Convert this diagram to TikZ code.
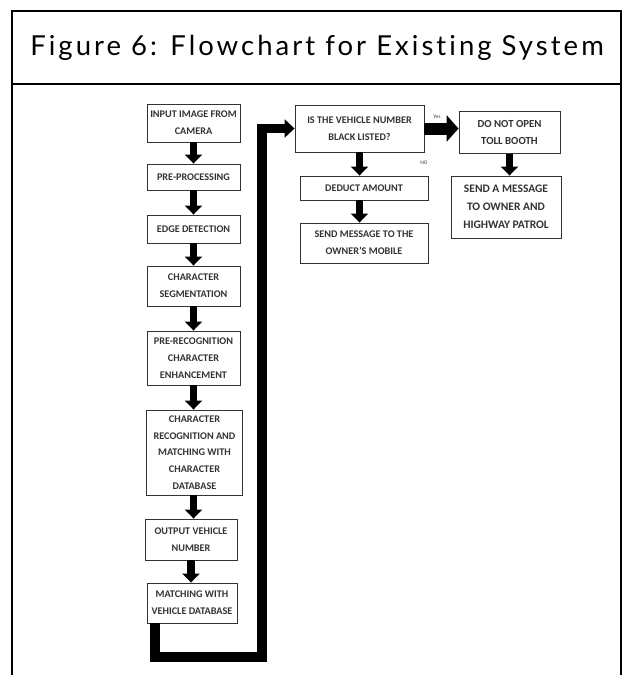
\documentclass[tikz,border=0pt]{standalone}
\usepackage{fontspec}
\setmainfont{Carlito}
\newfontfamily\titlefont[LetterSpace=11, Ligatures={NoCommon,NoRare}]{Lato}
\usetikzlibrary{arrows.meta}
\begin{document}
\begin{tikzpicture}[x=1pt,y=-1pt,
  box/.style={draw=black!80, line width=0.9pt, fill=white, align=center,
    font=\fontsize{10.2}{16.8}\selectfont\bfseries, text=black!80, inner sep=0pt},
  down/.style={line width=7.5pt, black, -{Triangle[length=9pt 0 0, width=17pt 0 0]}},
  side/.style={line width=12pt, black, -{Triangle[length=12pt 0 0, width=26pt 0 0]}},
  fat/.style={line width=9.5pt, black, line join=miter, -{Triangle[length=10pt 0 0, width=18pt 0 0]}},
  lbl/.style={font=\fontsize{5.5}{6}\selectfont, text=black!75, inner sep=0pt},
  frame/.style={line width=1.3pt, black}
]
\useasboundingbox (0,0) rectangle (633,675);
\draw[frame] (12,675) -- (12,11) -- (621,11) -- (621,675);
\draw[frame] (12,84) -- (621,84);
\node[font=\titlefont\fontsize{27.5}{30}\selectfont, inner sep=0pt] (title) at (317,48) {Figure 6: Flowchart for Existing System};

% left column
\node[box, minimum width=93, minimum height=38] (b1) at (193.5,123) {INPUT IMAGE FROM\\CAMERA};
\node[box, minimum width=93, minimum height=26] (b2) at (193.5,177) {PRE-PROCESSING};
\node[box, minimum width=93, minimum height=28] (b3) at (193.5,229) {EDGE DETECTION};
\node[box, minimum width=93, minimum height=40] (b4) at (193.5,286) {CHARACTER\\SEGMENTATION};
\node[box, minimum width=93, minimum height=54] (b5) at (193.5,358) {PRE-RECOGNITION\\CHARACTER\\ENHANCEMENT};
\node[box, minimum width=96, minimum height=85] (b6) at (194.5,452.5) {CHARACTER\\RECOGNITION AND\\MATCHING WITH\\CHARACTER\\DATABASE};
\node[box, minimum width=92, minimum height=41] (b7) at (191,539.5) {OUTPUT VEHICLE\\NUMBER};
\node[box, minimum width=90, minimum height=40] (b8) at (192,603) {MATCHING WITH\\VEHICLE DATABASE};

% right part
\node[box, minimum width=129, minimum height=47] (b9) at (359.5,128.5) {IS THE VEHICLE NUMBER\\BLACK LISTED?};
\node[box, minimum width=101, minimum height=42, font=\fontsize{10.8}{17}\selectfont\bfseries] (b10) at (509.5,132.5) {DO NOT OPEN\\TOLL BOOTH};
\node[box, minimum width=110, minimum height=62, font=\fontsize{11.5}{18}\selectfont\bfseries] (b11) at (506,207) {SEND A MESSAGE\\TO OWNER AND\\HIGHWAY PATROL};
\node[box, minimum width=128, minimum height=24] (b12) at (364,188) {DEDUCT AMOUNT};
\node[box, minimum width=128, minimum height=40] (b13) at (364,243) {SEND MESSAGE TO THE\\OWNER'S MOBILE};

\node[lbl] (yes) at (437,117) {Yes};
\node[lbl] (no) at (424,163) {NO};

% arrows
\draw[down] (b1.south) -- (b1.south |- b2.north);
\draw[down] (b2.south) -- (b2.south |- b3.north);
\draw[down] (b3.south) -- (b3.south |- b4.north);
\draw[down] (b4.south) -- (b4.south |- b5.north);
\draw[down] (b5.south) -- (b5.south |- b6.north);
\draw[down] ([xshift=-1]b6.south) -- ([xshift=-1]b6.south |- b7.north);
\draw[down] (b7.south) -- (b7.south |- b8.north);
\draw[down] (b9.south) -- (b9.south |- b12.north);
\draw[down] (b9.south |- b12.south) -- (b9.south |- b13.north);
\draw[down] (b10.south) -- (b10.south |- b11.north);
\draw[side] (b9.east) -- (b9.east -| b10.west);

\coordinate (turn) at (262,657);
\draw[fat] ([xshift=-37]b8.south) |- (turn) |- (b9.west);
\end{tikzpicture}
\end{document}
